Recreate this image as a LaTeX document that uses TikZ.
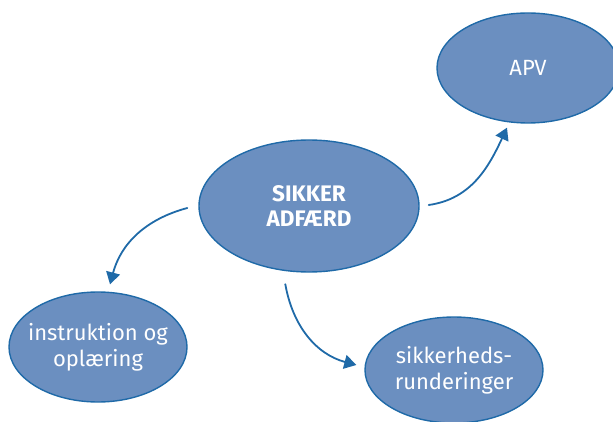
\documentclass[tikz,border=0pt]{standalone}
\usepackage{fontspec}
\setmainfont{Fira Sans}
\usetikzlibrary{arrows.meta,shapes.geometric}

\definecolor{bubblefill}{HTML}{6B8FC0}
\definecolor{bubbleline}{HTML}{1F6AA8}

\begin{document}
\begin{tikzpicture}[x=1pt,y=1pt]
\tikzset{
  bubble/.style={ellipse,draw=bubbleline,fill=bubblefill,line width=1.4pt,inner xsep=-30pt,inner ysep=-10pt,
    text=white,align=center,font=\fontsize{22}{26}\selectfont},
  flow/.style={draw=bubbleline,line width=1.8pt,line cap=round,-{Triangle[length=12pt,width=14pt]}}
}
\useasboundingbox (0,0) rectangle (613,421);
\node[bubble,minimum width=220pt,minimum height=132pt,font=\fontsize{22.5}{25}\bfseries\selectfont] (n_adf) at (309,215) {SIKKER\\ADFÆRD};
\node[bubble,minimum width=182pt,minimum height=110pt] (n_apv) at (528,353) {APV};
\node[bubble,minimum width=178pt,minimum height=110pt] (n_instr) at (98,74) {instruktion og\\oplæring};
\node[bubble,minimum width=178pt,minimum height=106pt] (n_runde) at (454,51) {sikkerheds-\\runderinger};
\draw[flow] ([xshift=9pt,yshift=1pt]n_adf.east) to[out=8,in=245] ([xshift=-21pt,yshift=-4pt]n_apv.south);
\draw[flow] ([xshift=-11pt,yshift=-2pt]n_adf.west) to[out=195,in=75] ([xshift=12pt,yshift=7pt]n_instr.north);
\draw[flow] ([yshift=-13pt]n_adf.250) to[out=280,in=165] ([xshift=-8pt,yshift=5pt]n_runde.west);
\end{tikzpicture}
\end{document}
